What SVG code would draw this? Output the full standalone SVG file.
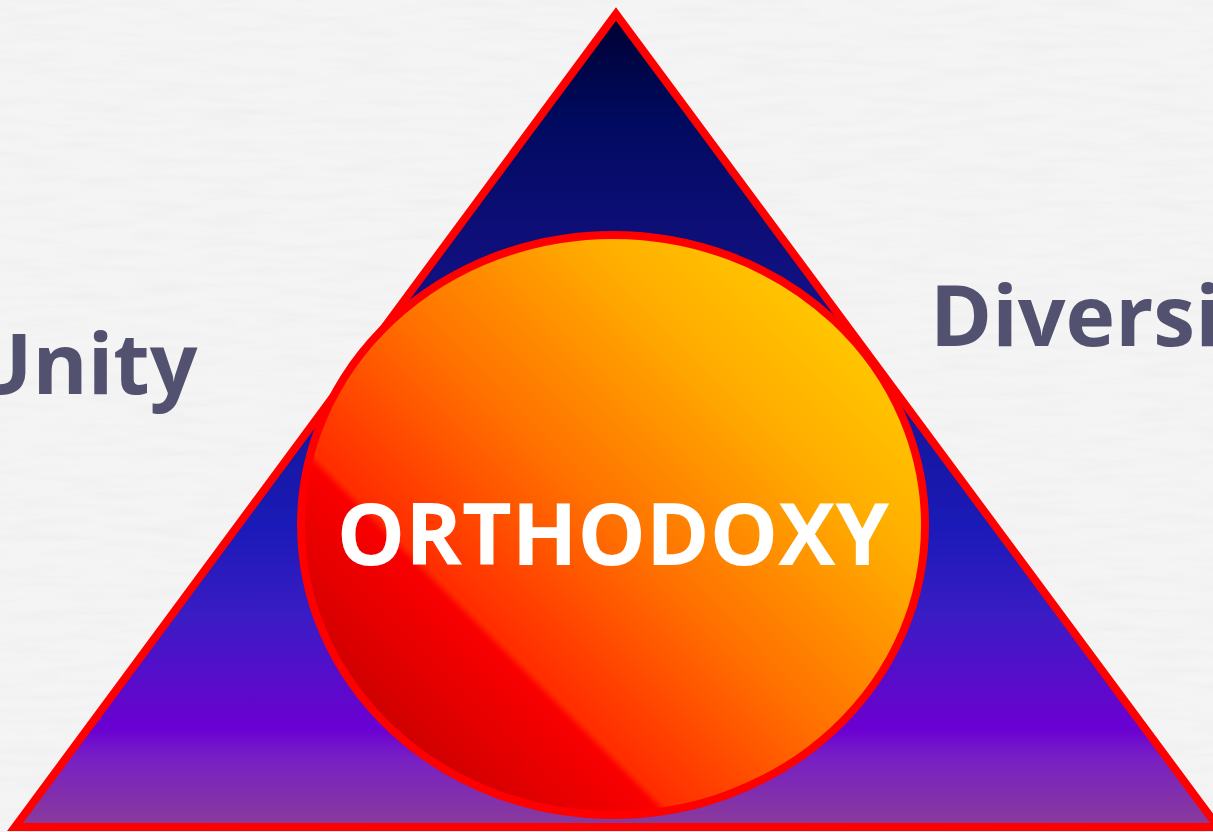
<svg xmlns="http://www.w3.org/2000/svg" width="1213" height="832" viewBox="0 0 1213 832">
  <defs>
    <filter id="paper" x="0" y="0" width="100%" height="100%" filterUnits="userSpaceOnUse">
      <feTurbulence type="fractalNoise" baseFrequency="0.015 0.12" numOctaves="3" seed="7"/>
      <feColorMatrix type="matrix" values="0 0 0 0 0.82  0 0 0 0 0.82  0 0 0 0 0.82  0.9 0 0 0 -0.38"/>
    </filter>
    <linearGradient id="triFill" gradientUnits="userSpaceOnUse" x1="0" y1="12" x2="0" y2="828">
      <stop offset="0" stop-color="#000030"/>
      <stop offset="0.13" stop-color="#000a5e"/>
      <stop offset="0.27" stop-color="#0e0e78"/>
      <stop offset="0.5" stop-color="#16169c"/>
      <stop offset="0.63" stop-color="#1a1ab8"/>
      <stop offset="0.74" stop-color="#3a1cc4"/>
      <stop offset="0.84" stop-color="#6008cc"/>
      <stop offset="0.878" stop-color="#6a00d2"/>
      <stop offset="0.915" stop-color="#7820c4"/>
      <stop offset="1" stop-color="#8a3c98"/>
    </linearGradient>
    <linearGradient id="ballFill" gradientUnits="userSpaceOnUse" x1="313" y1="825" x2="913" y2="225">
      <stop offset="0" stop-color="#b00000"/>
      <stop offset="0.12" stop-color="#c80000"/>
      <stop offset="0.3" stop-color="#fa0000"/>
      <stop offset="0.31" stop-color="#ff2c00"/>
      <stop offset="0.5" stop-color="#ff7000"/>
      <stop offset="0.72" stop-color="#ffae00"/>
      <stop offset="1" stop-color="#ffe000"/>
    </linearGradient>
    <style>
      .edge { stroke: #ff0000; stroke-width: 8; }
      .side { font-family: "Open Sans", "Noto Sans", "Liberation Sans", sans-serif; font-weight: 700; font-size: 84px; fill: #525270; }
      .core { font-family: "Open Sans", "Noto Sans", "Liberation Sans", sans-serif; font-weight: 700; font-size: 86px; fill: #ffffff; }
    </style>
  </defs>
  <g id="background">
    <rect x="0" y="0" width="1213" height="832" fill="#f4f4f4"/>
    <rect x="0" y="0" width="1213" height="832" filter="url(#paper)"/>
  </g>
  <g id="connectors"/>
  <g id="node-triangle">
    <polygon class="edge" points="616,14 15,827 1218,827" fill="url(#triFill)" stroke-linejoin="miter"/>
  </g>
  <g id="node-orthodoxy">
    <ellipse class="edge" cx="613" cy="525" rx="312" ry="290" fill="url(#ballFill)"/>
    <text class="core" x="613" y="565" text-anchor="middle">ORTHODOXY</text>
  </g>
  <g id="node-unity">
    <text class="side" x="-31" y="394">Unity</text>
  </g>
  <g id="node-diversity">
    <text class="side" x="930" y="346">Diversity</text>
  </g>
</svg>
